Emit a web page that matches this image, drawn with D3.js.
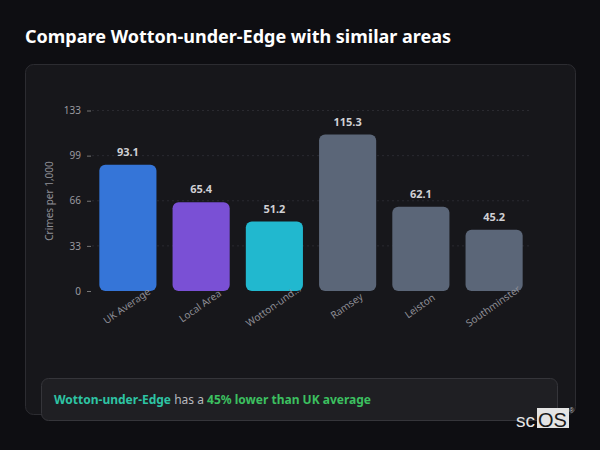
<!DOCTYPE html>
<html><head><meta charset="utf-8">
<script src="https://cdn.jsdelivr.net/npm/d3@7"></script>
<style>
html,body{margin:0;padding:0;background:#0e0e12;}
svg{display:block;font-family:"Noto Sans","Open Sans",sans-serif;}
</style></head>
<body><svg id="c" width="600" height="450"></svg>
<script>
const categories = ["UK Average","Local Area","Wotton-under-Edge","Ramsey","Leiston","Southminster"];
const axisLabels = ["UK Average","Local Area","Wotton-und...","Ramsey","Leiston","Southminster"];
const values = [93.1, 65.4, 51.2, 115.3, 62.1, 45.2];
const barColors = ["#3575d8","#7a50d5","#21b8cf","#5b6678","#5b6678","#5b6678"];
const yMax = 133;
const yTickValues = [0, 33.25, 66.5, 99.75, 133];

const svg = d3.select("#c");
svg.append("rect").attr("width",600).attr("height",450).attr("fill","#0e0e12");
svg.append("text").attr("x",25).attr("y",43).attr("fill","#ffffff")
  .attr("font-size",18).attr("font-weight",700).text("Compare Wotton-under-Edge with similar areas");

svg.append("rect").attr("x",25.5).attr("y",64.5).attr("width",550).attr("height",350).attr("rx",8)
  .attr("fill","#17171b").attr("stroke","#2c2c31");

const x = d3.scaleBand().domain(categories).range([92,530]).paddingInner(0.22).paddingOuter(0.1);
const y = d3.scaleLinear().domain([0,yMax]).range([291,110.5]);

// grid
svg.append("g").selectAll("line").data(yTickValues.slice(1)).join("line")
  .attr("x1",92).attr("x2",530).attr("y1",d=>y(d)).attr("y2",d=>y(d))
  .attr("stroke","#2a2a30").attr("stroke-dasharray","2,3");

const yAxis = svg.append("g").attr("transform","translate(91,0)")
  .call(d3.axisLeft(y).tickValues(yTickValues).tickFormat(d=>Math.floor(d)).tickSize(4).tickPadding(6));
yAxis.select(".domain").remove();
yAxis.selectAll("line").attr("stroke","#777");
yAxis.selectAll("text").attr("fill","#9a9aa0").attr("font-size",10).attr("font-family","Noto Sans");

svg.append("text").attr("transform","translate(53,201) rotate(-90)").attr("text-anchor","middle")
  .attr("fill","#8f8f96").attr("font-size",10).text("Crimes per 1,000");

svg.append("g").selectAll("rect").data(values).join("rect")
  .attr("x",(d,i)=>x(categories[i])).attr("width",x.bandwidth())
  .attr("y",d=>y(d)).attr("height",d=>y(0)-y(d)).attr("rx",6)
  .attr("fill",(d,i)=>barColors[i]);

svg.append("g").selectAll("text").data(values).join("text")
  .attr("x",(d,i)=>x(categories[i])+x.bandwidth()/2).attr("y",d=>y(d)-9)
  .attr("text-anchor","middle").attr("fill","#d0d0d4").attr("font-size",11).attr("font-weight",700)
  .text(d=>d.toFixed(1));

svg.append("g").selectAll("text").data(axisLabels).join("text")
  .attr("transform",(d,i)=>`translate(${x(categories[i])+x.bandwidth()/2-1},306) rotate(-35)`)
  .attr("text-anchor","middle").attr("dy","0.35em").attr("fill","#8e8e96").attr("font-size",10)
  .text(d=>d);

// callout
svg.append("rect").attr("x",41.5).attr("y",378.5).attr("width",516).attr("height",42).attr("rx",7)
  .attr("fill","#1f1f23").attr("stroke","#35353a");
const t = svg.append("text").attr("x",54).attr("y",404).attr("font-size",12);
t.append("tspan").attr("fill","#2ec4a4").attr("font-weight",700).text("Wotton-under-Edge");
t.append("tspan").attr("fill","#b8b8be").text(" has a ");
t.append("tspan").attr("fill","#3cc060").attr("font-weight",700).text("45% lower than UK average");

// logo
svg.append("text").attr("x",516).attr("y",427).attr("fill","#e6e6e6").attr("font-size",19)
  .attr("font-family","Liberation Sans").text("sc");
svg.append("rect").attr("x",537).attr("y",408).attr("width",32).attr("height",20).attr("fill","#e4e4e4");
svg.append("text").attr("x",538).attr("y",427).attr("fill","#1a1a1a").attr("font-size",20)
  .attr("font-family","Liberation Sans").text("OS");
svg.append("text").attr("x",569).attr("y",413).attr("fill","#c0c0c0").attr("font-size",7)
  .attr("font-family","Liberation Sans").text("®");
</script></body></html>
